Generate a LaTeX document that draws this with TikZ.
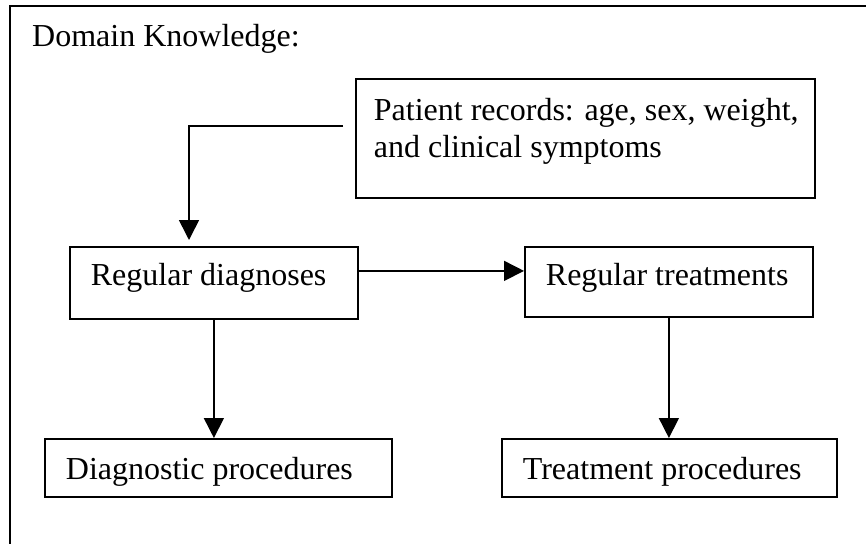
\documentclass[tikz,border=0pt]{standalone}
\usepackage{fontspec}
\setmainfont{Liberation Serif}
\usetikzlibrary{arrows.meta,calc}
\begin{document}
\begin{tikzpicture}[x=1pt,y=-1pt,
  every node/.style={font=\fontsize{32}{37}\selectfont},
  box/.style={draw, line width=1.8pt, rectangle, inner xsep=21pt, inner ysep=0pt, anchor=north west},
  flow/.style={line width=1.6pt, -{Triangle[width=20pt,length=20pt]}}]
% page area and the outer frame running off the page
\clip (0,0) rectangle (866,543);
\draw[line width=2pt] (10,6) rectangle (900,600);

\node[anchor=base west, inner sep=0pt] (title) at (32,47) {Domain Knowledge:};

\node[box, inner xsep=18pt, text height=42pt, text depth=77pt] (patient) at (355,78)
  {\makebox[423pt][l]{\begin{tabular}[t]{@{}l@{}}Patient records: age, sex, weight,\\ and clinical symptoms\end{tabular}}};

\node[box, text height=39pt, text depth=33pt] (diag) at (69,246) {\makebox[246pt][l]{Regular diagnoses}};
\node[box, text height=39pt, text depth=31pt] (treat) at (524,246) {\makebox[246pt][l]{Regular treatments}};
\node[box, text height=41pt, text depth=17pt] (dproc) at (44,438) {\makebox[305pt][l]{Diagnostic procedures}};
\node[box, text height=41pt, text depth=17pt] (tproc) at (501,438) {\makebox[293pt][l]{Treatment procedures}};

% connectors
\coordinate (pstart) at ($(patient.north west)+(-12,48)$);
\draw[flow] (pstart) -| ($(diag.north west)+(120,-6)$);
\coordinate (dout) at ($(diag.east)+(0,-12)$);
\draw[flow] (dout) -- (dout -| treat.west);
\draw[flow] (diag.south) -- (diag.south |- dproc.north);
\draw[flow] (treat.south) -- (treat.south |- tproc.north);
\end{tikzpicture}
\end{document}
